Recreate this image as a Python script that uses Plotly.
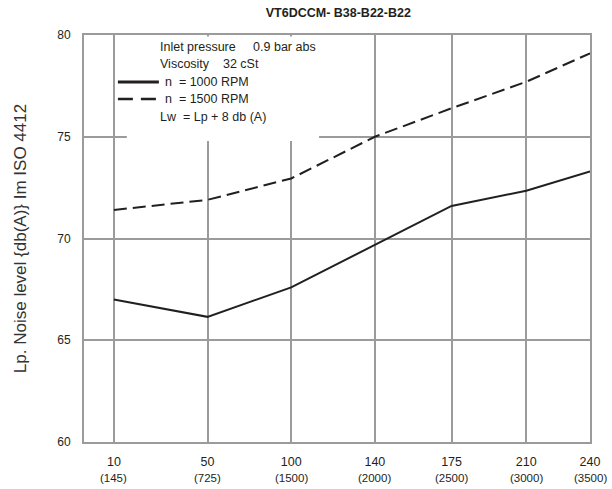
import plotly.graph_objects as go

# ---- data ----
flow_labels = ["10", "50", "100", "140", "175", "210", "240"]
rpm_labels = ["(145)", "(725)", "(1500)", "(2000)", "(2500)", "(3000)", "(3500)"]
noise_1000 = [67.0, 66.15, 67.6, 69.7, 71.6, 72.35, 73.3]
noise_1500 = [71.4, 71.9, 72.95, 75.0, 76.4, 77.7, 79.1]
y_ticks = [60, 65, 70, 75, 80]
series_names = ["n  = 1000 RPM", "n  = 1500 RPM"]

# axis scale: positions of the categories along the (non-uniform) x axis
axis_positions = [30, 124, 208, 292, 369, 444, 508]
axis_range = [0, 508]

FONT = "Liberation Sans, Arial, Helvetica, sans-serif"
INK = "#231f20"
GRID = "#9b9b9b"
DASH = "13px,6px"
NB = "\u00a0"

fig = go.Figure()
fig.add_trace(go.Scatter(x=axis_positions, y=noise_1000, mode="lines",
                         name=series_names[0], line=dict(color=INK, width=2)))
fig.add_trace(go.Scatter(x=axis_positions, y=noise_1500, mode="lines",
                         name=series_names[1], line=dict(color=INK, width=2, dash=DASH)))

# white box behind the legend text, covering grid lines
fig.add_shape(type="rect", xref="paper", yref="paper",
              x0=0.0846, x1=0.4646, y0=0.7396, y1=0.9963,
              fillcolor="white", line=dict(width=0), layer="above")

PLOT_H = 407
def row_y(px_from_top):
    return 1 - px_from_top / PLOT_H

text_rows = [("Inlet pressure" + NB * 5 + "0.9 bar abs", 12),
             ("Viscosity" + NB * 4 + "32 cSt", 29),
             (series_names[0].replace(" ", NB), 47),
             (series_names[1].replace(" ", NB), 64),
             ("Lw" + NB * 2 + "= Lp + 8 db (A)", 82)]
for i, (t, dy) in enumerate(text_rows):
    x0 = 0.1555 if i in (2, 3) else 0.146
    fig.add_annotation(text=t, xref="paper", yref="paper", x=x0, y=row_y(dy),
                       xanchor="left", yanchor="middle",
                       showarrow=False, font=dict(size=12.5, color=INK, family=FONT))

# legend sample lines
fig.add_shape(type="line", xref="paper", yref="paper", x0=0.067, x1=0.148,
              y0=row_y(47), y1=row_y(47), line=dict(color=INK, width=3), layer="above")
fig.add_shape(type="line", xref="paper", yref="paper", x0=0.067, x1=0.148,
              y0=row_y(64), y1=row_y(64), line=dict(color=INK, width=2.5, dash="15px,8px"),
              layer="above")

for xp, lab in zip(axis_positions, rpm_labels):
    fig.add_annotation(text=lab, x=xp, xref="x", y=0, yref="paper",
                       yanchor="middle", yshift=-36, showarrow=False,
                       font=dict(size=11.5, color=INK, family=FONT))

fig.update_layout(
    width=612, height=489,
    margin=dict(l=84, r=20, t=35, b=47),
    paper_bgcolor="white", plot_bgcolor="white",
    font=dict(family=FONT, color=INK, size=12),
    title=dict(text="<b>VT6DCCM- B38-B22-B22</b>", x=0.5528, xanchor="center",
               y=1 - 13 / 489, yanchor="middle",
               font=dict(size=12.5, family=FONT, color=INK)),
    showlegend=False,
)
fig.update_xaxes(range=axis_range, tickmode="array", tickvals=axis_positions,
                 ticktext=flow_labels, showgrid=True, gridcolor=GRID, gridwidth=2,
                 showline=True, linecolor=GRID, linewidth=2, mirror=True,
                 zeroline=False, ticks="", ticklabelstandoff=7,
                 tickfont=dict(size=12.5, family=FONT, color=INK))
fig.update_yaxes(range=[60, 80], tickmode="array", tickvals=y_ticks,
                 showgrid=True, gridcolor=GRID, gridwidth=2,
                 showline=True, linecolor=GRID, linewidth=2, mirror=True,
                 zeroline=False, ticks="", ticklabelstandoff=9,
                 tickfont=dict(size=12, family=FONT, color=INK),
                 title=dict(text="Lp. Noise level {db(A)} Im ISO 4412", standoff=26,
                            font=dict(size=17, family=FONT, color="#333")))

fig.write_html("out.html")
